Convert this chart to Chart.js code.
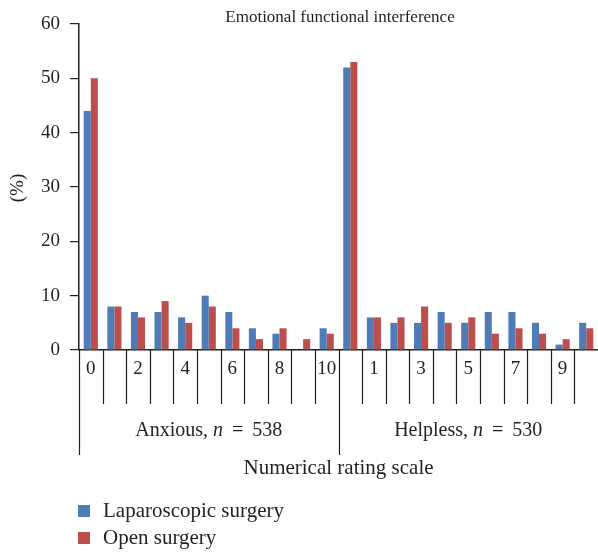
<!DOCTYPE html>
<html>
<head>
<meta charset="utf-8">
<script src="https://cdn.jsdelivr.net/npm/chart.js@4/dist/chart.umd.min.js"></script>
<style>
  html, body { margin: 0; padding: 0; background: #fff; }
  #wrap { width: 598px; height: 552px; }
</style>
</head>
<body>
<div id="wrap"><canvas id="chart"></canvas></div>
<script>
// rating categories, two groups of 0..10
const groups = ['Anxious', 'Helpless'];
const groupN = [538, 530];
const ratings = ['0', '1', '2', '3', '4', '5', '6', '7', '8', '9', '10'];

// percentages
const lapAnxious = [44, 8, 7, 7, 6, 10, 7, 4, 3, 0, 4];
const openAnxious = [50, 8, 6, 9, 5, 8, 4, 2, 4, 2, 3];
const lapHelpless = [52, 6, 5, 5, 7, 5, 7, 7, 5, 1, 5];
const openHelpless = [53, 6, 6, 8, 5, 6, 3, 4, 3, 2, 4];

const yTicks = [0, 10, 20, 30, 40, 50, 60];

const labels = ratings.concat(ratings);
const lapData = lapAnxious.concat(lapHelpless);
const openData = openAnxious.concat(openHelpless);

const FONT = '"Liberation Serif", "Times New Roman", serif';
const INK = '#231f20';

// separators, group labels, titles and legend
const extras = {
  id: 'extras',
  afterDraw(chart) {
    const ctx = chart.ctx;
    const x = chart.scales.x;
    const area = chart.chartArea;
    const half = (x.getPixelForValue(1) - x.getPixelForValue(0)) / 2;
    ctx.save();
    ctx.strokeStyle = INK;
    ctx.lineWidth = 1.2;
    // category boundaries (last one falls off the edge)
    for (let i = 0; i < labels.length; i++) {
      const px = Math.round(x.getPixelForValue(i) - half) + 0.5;
      const long = i % ratings.length === 0;
      ctx.beginPath();
      ctx.moveTo(px, area.bottom);
      ctx.lineTo(px, area.bottom + (long ? 105 : 54));
      ctx.stroke();
    }
    // group labels
    ctx.fillStyle = INK;
    ctx.textBaseline = 'middle';
    groups.forEach((g, gi) => {
      const a = x.getPixelForValue(gi * ratings.length) - half;
      const b = x.getPixelForValue((gi + 1) * ratings.length - 1) + half;
      const parts = [[g + ', ', 'normal'], ['n', 'italic'], [' \u2009=\u2009 ' + groupN[gi], 'normal']];
      let total = 0;
      parts.forEach(p => { ctx.font = p[1] + ' 20px ' + FONT; total += ctx.measureText(p[0]).width; });
      let cx = (a + b) / 2 - total / 2;
      ctx.textAlign = 'left';
      parts.forEach(p => {
        ctx.font = p[1] + ' 20px ' + FONT;
        ctx.fillText(p[0], cx, 431);
        cx += ctx.measureText(p[0]).width;
      });
    });
    ctx.textAlign = 'center';
    ctx.font = '21px ' + FONT;
    ctx.fillText('Numerical rating scale', (area.left + area.right) / 2, 468);
    ctx.font = '17px ' + FONT;
    ctx.fillText('Emotional functional interference', 340, 18);
    // y title
    ctx.save();
    ctx.translate(18, 188);
    ctx.rotate(-Math.PI / 2);
    ctx.font = '19px ' + FONT;
    ctx.fillText('(%)', 0, 0);
    ctx.restore();
    // legend
    ctx.textAlign = 'left';
    chart.data.datasets.forEach((ds, i) => {
      const y = 511 + i * 27;
      ctx.fillStyle = ds.backgroundColor;
      ctx.fillRect(78, y - 6, 12, 12);
      ctx.fillStyle = INK;
      ctx.font = '21px ' + FONT;
      ctx.fillText(ds.label, 103, y);
    });
    ctx.restore();
  }
};

new Chart(document.getElementById('chart'), {
  type: 'bar',
  data: {
    labels: labels,
    datasets: [
      { label: 'Laparoscopic surgery', data: lapData, backgroundColor: '#4F7CB7' },
      { label: 'Open surgery', data: openData, backgroundColor: '#BC4F4C' }
    ]
  },
  options: {
    responsive: true,
    maintainAspectRatio: false,
    animation: false,
    layout: { padding: { top: 24, right: 0, left: 0, bottom: 0 } },
    datasets: { bar: { categoryPercentage: 0.6, barPercentage: 1.0 } },
    plugins: { legend: { display: false }, tooltip: { enabled: false } },
    scales: {
      x: {
        grid: { display: false, drawTicks: false },
        border: { display: true, color: INK, width: 1.5 },
        ticks: {
          autoSkip: false, maxRotation: 0, padding: 8,
          color: INK, font: { family: FONT, size: 19 },
          callback: (v, i) => (i % 2 === 0 ? labels[i] : '')
        },
        afterFit: s => { s.height = 202; }
      },
      y: {
        min: 0, max: 60,
        afterBuildTicks: s => { s.ticks = yTicks.map(v => ({ value: v })); },
        grid: { drawOnChartArea: false, drawTicks: true, tickLength: 9, color: INK, lineWidth: 1.2 },
        border: { display: true, color: INK, width: 1.5 },
        ticks: { padding: 10, color: INK, font: { family: FONT, size: 19 } },
        afterFit: s => { s.width = 79; }
      }
    }
  },
  plugins: [extras]
});
</script>
</body>
</html>
